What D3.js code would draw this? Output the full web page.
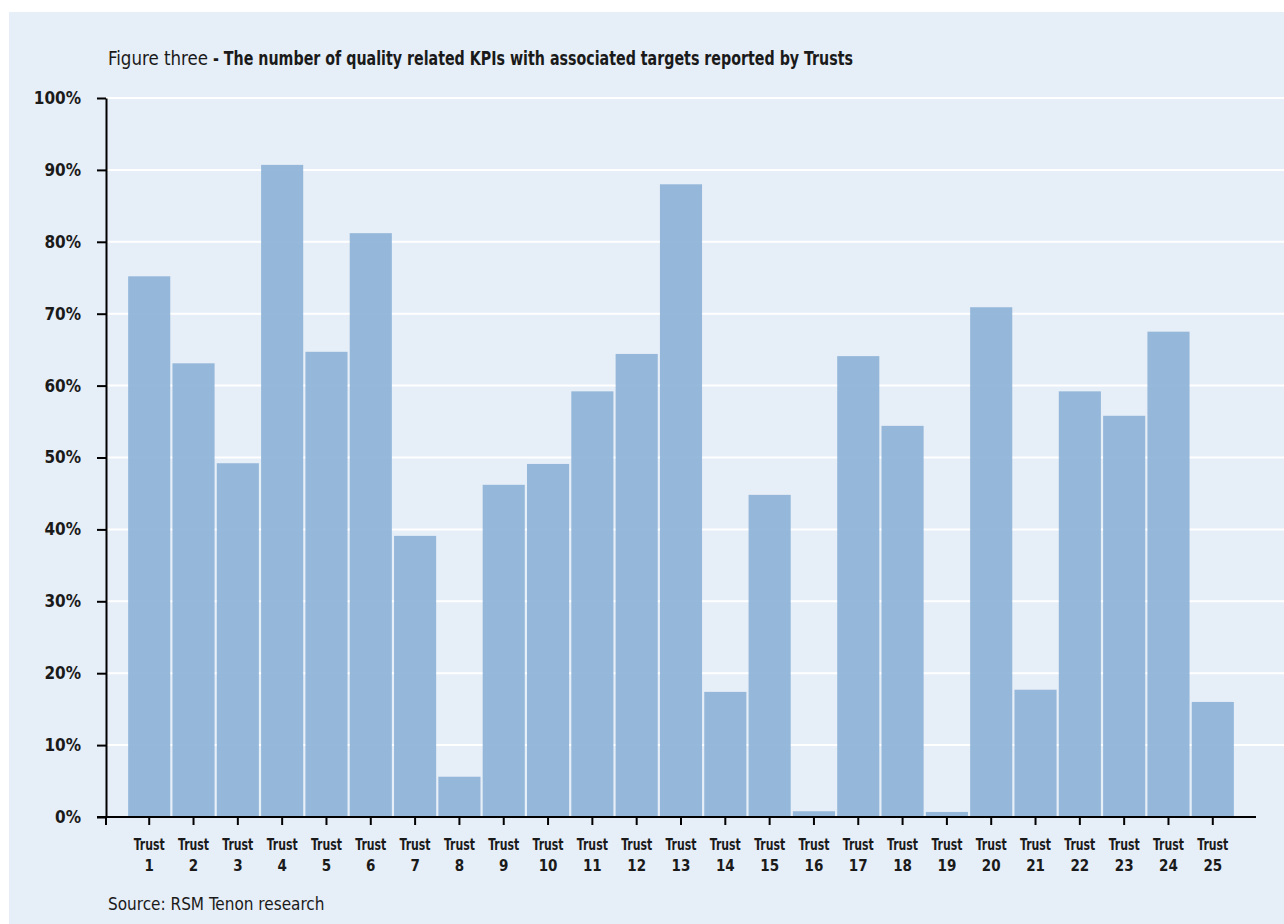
<!DOCTYPE html>
<html>
<head>
    <meta charset="utf-8" />
    <title>Figure three</title>
    <script src="https://cdn.jsdelivr.net/npm/d3@7"></script>
    <style>
        body { margin: 0; background: #fff; }
        svg text { font-family: "DejaVu Sans Condensed", "Liberation Sans Narrow", sans-serif; fill: #1a1a1a; }
    </style>
</head>
<body>
    <script>
        const trusts = d3.range(1, 26).map(i => "Trust " + i);
        const values = [75.2, 63.1, 49.2, 90.7, 64.7, 81.2, 39.1, 5.6, 46.2, 49.1,
            59.2, 64.4, 88.0, 17.4, 44.8, 0.8, 64.1, 54.4, 0.7, 70.9,
            17.7, 59.2, 55.8, 67.5, 16.0];
        const yTicks = [0, 10, 20, 30, 40, 50, 60, 70, 80, 90, 100];

        const width = 1284, height = 924;
        const margin = { top: 98, left: 106, right: 28, bottom: 107 };

        const svg = d3.select("body").append("svg")
            .attr("width", width)
            .attr("height", height);

        // panel
        svg.append("rect")
            .attr("x", 9).attr("y", 12)
            .attr("width", width - 9).attr("height", height - 12)
            .attr("fill", "#e6eef7");

        const x = d3.scaleBand()
            .domain(trusts)
            .range([margin.left, width - margin.right])
            .paddingOuter(0.5)
            .paddingInner(0.05);

        const y = d3.scaleLinear()
            .domain([0, 100])
            .range([height - margin.bottom, margin.top]);

        // grid
        svg.append("g")
            .selectAll("line")
            .data(yTicks.filter(d => d > 0))
            .join("line")
            .attr("x1", margin.left).attr("x2", width)
            .attr("y1", d => y(d)).attr("y2", d => y(d))
            .attr("stroke", "#fff")
            .attr("stroke-width", 2);

        // bars
        svg.append("g")
            .selectAll("rect")
            .data(values)
            .join("rect")
            .attr("x", (d, i) => x(trusts[i]))
            .attr("y", d => y(d))
            .attr("width", x.bandwidth())
            .attr("height", d => y(0) - y(d))
            .attr("fill", "#8fb4d8")
            .attr("fill-opacity", 0.94);

        // y axis
        const yAxis = svg.append("g")
            .attr("transform", `translate(${margin.left},0)`)
            .call(d3.axisLeft(y).tickValues(yTicks).tickFormat(d => d + "%").tickSize(9).tickSizeOuter(0));
        yAxis.select(".domain").attr("stroke", "#000").attr("stroke-width", 2);
        yAxis.selectAll(".tick line").attr("stroke", "#000").attr("stroke-width", 2);
        yAxis.selectAll(".tick text")
            .attr("x", -25)
            .attr("font-size", 17)
            .attr("font-weight", "bold");

        // x axis
        const xAxis = svg.append("g")
            .attr("transform", `translate(0,${y(0)})`)
            .call(d3.axisBottom(x).tickSize(8).tickSizeOuter(0).tickFormat(""));
        xAxis.select(".domain").attr("d", `M${margin.left - 9},0H${width - margin.right}`)
            .attr("stroke", "#000").attr("stroke-width", 2);
        xAxis.selectAll(".tick line").attr("stroke", "#000").attr("stroke-width", 2);
        xAxis.append("line")
            .attr("x1", margin.left).attr("x2", margin.left)
            .attr("y1", 0).attr("y2", 8)
            .attr("stroke", "#000").attr("stroke-width", 2);

        const labels = xAxis.selectAll(".tick").append("text")
            .attr("text-anchor", "middle")
            .attr("font-size", 15)
            .attr("font-weight", "bold");
        labels.append("tspan").attr("x", 0).attr("y", 33)
            .attr("textLength", 31).attr("lengthAdjust", "spacingAndGlyphs")
            .text(d => d.split(" ")[0]);
        labels.append("tspan").attr("x", 0).attr("y", 54).text(d => d.split(" ")[1]);

        // title
        const title = svg.append("text")
            .attr("x", 108).attr("y", 65)
            .attr("font-size", 19);
        title.append("tspan")
            .attr("textLength", 100).attr("lengthAdjust", "spacingAndGlyphs")
            .text("Figure three");
        title.append("tspan").attr("font-weight", "bold")
            .attr("dx", 5)
            .attr("textLength", 640).attr("lengthAdjust", "spacingAndGlyphs")
            .text("- The number of quality related KPIs with associated targets reported by Trusts");

        svg.append("text")
            .attr("x", 108).attr("y", 910)
            .attr("font-size", 17)
            .text("Source: RSM Tenon research");
    </script>
</body>
</html>
